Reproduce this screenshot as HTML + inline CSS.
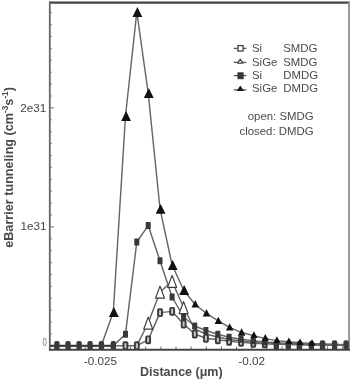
<!DOCTYPE html>
<html><head><meta charset="utf-8"><style>
html,body{margin:0;padding:0;background:#fff;}
body{width:350px;height:379px;overflow:hidden;position:relative;font-family:"Liberation Sans",sans-serif;}
svg{position:absolute;left:0;top:0;will-change:transform;}
</style></head><body>
<svg width="350" height="379" viewBox="0 0 350 379" font-family="Liberation Sans, sans-serif">
<defs><clipPath id="pc"><rect x="50.5" y="3" width="297" height="346"/></clipPath></defs>
<line x1="49" x2="350" y1="2.6" y2="2.6" stroke="#454545" stroke-width="2.1"/>
<line x1="49.8" x2="49.8" y1="1.6" y2="350.5" stroke="#666" stroke-width="1.8"/>
<line x1="349.1" x2="349.1" y1="1.6" y2="350.5" stroke="#959595" stroke-width="2"/>
<line x1="49" x2="350" y1="349.7" y2="349.7" stroke="#444" stroke-width="1.9"/>
<line x1="50.5" x2="53.8" y1="345.9" y2="345.9" stroke="#666" stroke-width="1"/>
<line x1="50.5" x2="51.8" y1="334.0" y2="334.0" stroke="#666" stroke-width="1"/>
<line x1="50.5" x2="51.8" y1="322.1" y2="322.1" stroke="#666" stroke-width="1"/>
<line x1="50.5" x2="51.8" y1="310.2" y2="310.2" stroke="#666" stroke-width="1"/>
<line x1="50.5" x2="51.8" y1="298.3" y2="298.3" stroke="#666" stroke-width="1"/>
<line x1="50.5" x2="51.8" y1="286.4" y2="286.4" stroke="#666" stroke-width="1"/>
<line x1="50.5" x2="51.8" y1="274.5" y2="274.5" stroke="#666" stroke-width="1"/>
<line x1="50.5" x2="51.8" y1="262.6" y2="262.6" stroke="#666" stroke-width="1"/>
<line x1="50.5" x2="51.8" y1="250.7" y2="250.7" stroke="#666" stroke-width="1"/>
<line x1="50.5" x2="51.8" y1="238.8" y2="238.8" stroke="#666" stroke-width="1"/>
<line x1="50.5" x2="53.8" y1="226.9" y2="226.9" stroke="#666" stroke-width="1"/>
<line x1="50.5" x2="51.8" y1="215.0" y2="215.0" stroke="#666" stroke-width="1"/>
<line x1="50.5" x2="51.8" y1="203.1" y2="203.1" stroke="#666" stroke-width="1"/>
<line x1="50.5" x2="51.8" y1="191.2" y2="191.2" stroke="#666" stroke-width="1"/>
<line x1="50.5" x2="51.8" y1="179.3" y2="179.3" stroke="#666" stroke-width="1"/>
<line x1="50.5" x2="51.8" y1="167.4" y2="167.4" stroke="#666" stroke-width="1"/>
<line x1="50.5" x2="51.8" y1="155.5" y2="155.5" stroke="#666" stroke-width="1"/>
<line x1="50.5" x2="51.8" y1="143.6" y2="143.6" stroke="#666" stroke-width="1"/>
<line x1="50.5" x2="51.8" y1="131.7" y2="131.7" stroke="#666" stroke-width="1"/>
<line x1="50.5" x2="51.8" y1="119.8" y2="119.8" stroke="#666" stroke-width="1"/>
<line x1="50.5" x2="53.8" y1="107.9" y2="107.9" stroke="#666" stroke-width="1"/>
<line x1="50.5" x2="51.8" y1="96.0" y2="96.0" stroke="#666" stroke-width="1"/>
<line x1="50.5" x2="51.8" y1="84.1" y2="84.1" stroke="#666" stroke-width="1"/>
<line x1="50.5" x2="51.8" y1="72.2" y2="72.2" stroke="#666" stroke-width="1"/>
<line x1="50.5" x2="51.8" y1="60.3" y2="60.3" stroke="#666" stroke-width="1"/>
<line x1="50.5" x2="51.8" y1="48.4" y2="48.4" stroke="#666" stroke-width="1"/>
<line x1="50.5" x2="51.8" y1="36.5" y2="36.5" stroke="#666" stroke-width="1"/>
<line x1="50.5" x2="51.8" y1="24.6" y2="24.6" stroke="#666" stroke-width="1"/>
<line x1="50.5" x2="51.8" y1="12.7" y2="12.7" stroke="#666" stroke-width="1"/>
<line y1="349" y2="346.5" x1="54.9" x2="54.9" stroke="#666" stroke-width="1"/>
<line y1="349" y2="346.5" x1="70.0" x2="70.0" stroke="#666" stroke-width="1"/>
<line y1="349" y2="346.5" x1="85.2" x2="85.2" stroke="#666" stroke-width="1"/>
<line y1="349" y2="345" x1="100.3" x2="100.3" stroke="#666" stroke-width="1"/>
<line y1="349" y2="346.5" x1="115.4" x2="115.4" stroke="#666" stroke-width="1"/>
<line y1="349" y2="346.5" x1="130.6" x2="130.6" stroke="#666" stroke-width="1"/>
<line y1="349" y2="346.5" x1="145.7" x2="145.7" stroke="#666" stroke-width="1"/>
<line y1="349" y2="346.5" x1="160.9" x2="160.9" stroke="#666" stroke-width="1"/>
<line y1="349" y2="346.5" x1="176.0" x2="176.0" stroke="#666" stroke-width="1"/>
<line y1="349" y2="346.5" x1="191.1" x2="191.1" stroke="#666" stroke-width="1"/>
<line y1="349" y2="346.5" x1="206.3" x2="206.3" stroke="#666" stroke-width="1"/>
<line y1="349" y2="346.5" x1="221.4" x2="221.4" stroke="#666" stroke-width="1"/>
<line y1="349" y2="346.5" x1="236.6" x2="236.6" stroke="#666" stroke-width="1"/>
<line y1="349" y2="345" x1="251.7" x2="251.7" stroke="#666" stroke-width="1"/>
<line y1="349" y2="346.5" x1="266.8" x2="266.8" stroke="#666" stroke-width="1"/>
<line y1="349" y2="346.5" x1="282.0" x2="282.0" stroke="#666" stroke-width="1"/>
<line y1="349" y2="346.5" x1="297.1" x2="297.1" stroke="#666" stroke-width="1"/>
<line y1="349" y2="346.5" x1="312.3" x2="312.3" stroke="#666" stroke-width="1"/>
<line y1="349" y2="346.5" x1="327.4" x2="327.4" stroke="#666" stroke-width="1"/>
<line y1="349" y2="346.5" x1="342.5" x2="342.5" stroke="#666" stroke-width="1"/>
<g clip-path="url(#pc)">
<polyline points="45.8,345.6 56.9,345.6 68.0,345.6 79.1,345.6 90.1,345.6 101.4,345.6 113.3,345.6 125.5,345.6 136.8,345.6 148.2,339.9 160.0,312.6 172.1,311.4 183.6,324.0 194.7,334.0 205.9,338.3 217.8,339.8 229.1,341.2 241.0,342.4 253.3,343.3 264.7,343.9 276.3,344.3 288.3,344.6 299.5,344.8 311.4,345.0 322.5,345.2 334.6,345.3 346.1,345.4 357.7,345.4" fill="none" stroke="#666" stroke-width="1.45" stroke-linejoin="round"/>
<polyline points="45.8,345.6 56.9,345.6 68.0,345.6 79.1,345.6 90.1,345.6 101.4,345.6 113.3,345.6 125.5,345.6 136.8,345.6 148.2,323.0 160.0,292.0 172.1,281.3 183.6,307.5 194.7,329.0 205.9,334.0 217.8,337.0 229.1,339.5 241.0,341.0 253.3,342.5 264.7,343.3 276.3,343.8 288.3,344.2 299.5,344.5 311.4,344.7 322.5,344.9 334.6,345.0 346.1,345.0 357.7,345.0" fill="none" stroke="#666" stroke-width="1.45" stroke-linejoin="round"/>
<polyline points="45.8,345.6 56.9,345.6 68.0,345.6 79.1,345.6 90.1,345.6 101.4,345.6 113.3,345.6 125.5,334.2 136.8,242.0 148.2,225.6 160.0,260.7 172.1,297.0 183.6,317.0 194.7,326.0 205.9,330.5 217.8,334.3 229.1,337.3 241.0,339.3 253.3,340.8 264.7,342.0 276.3,342.8 288.3,343.4 299.5,343.8 311.4,344.2 322.5,344.5 334.6,344.7 346.1,344.9 357.7,344.9" fill="none" stroke="#666" stroke-width="1.45" stroke-linejoin="round"/>
<polyline points="45.8,345.6 56.9,345.6 68.0,345.6 79.1,345.6 90.1,345.6 101.4,345.6 113.3,312.0 125.5,116.0 136.8,12.0 148.2,93.0 160.0,208.8 172.1,265.0 183.6,290.0 194.7,304.0 205.9,313.0 217.8,320.7 229.1,327.2 241.0,332.3 253.3,335.6 264.7,338.4 276.3,340.6 288.3,341.8 299.5,342.8 311.4,343.5 322.5,344.0 334.6,344.3 346.1,344.6 357.7,344.6" fill="none" stroke="#666" stroke-width="1.45" stroke-linejoin="round"/>
</g>
<line x1="50" x2="113.3" y1="345.8" y2="345.8" stroke="#3a3a3a" stroke-width="2"/>
<rect x="54.2" y="341" width="5.4" height="9.0" rx="2" fill="#3a3a3a"/>
<rect x="65.3" y="341" width="5.4" height="9.0" rx="2" fill="#3a3a3a"/>
<rect x="76.4" y="341" width="5.4" height="9.0" rx="2" fill="#3a3a3a"/>
<rect x="87.4" y="341" width="5.4" height="9.0" rx="2" fill="#3a3a3a"/>
<rect x="98.7" y="341" width="5.4" height="9.0" rx="2" fill="#3a3a3a"/>
<rect x="110.6" y="341" width="5.4" height="9.0" rx="2" fill="#3a3a3a"/>
<rect x="273.6" y="341" width="5.4" height="9.0" rx="2" fill="#3a3a3a"/>
<rect x="285.6" y="341" width="5.4" height="9.0" rx="2" fill="#3a3a3a"/>
<rect x="296.8" y="341" width="5.4" height="9.0" rx="2" fill="#3a3a3a"/>
<rect x="308.7" y="341" width="5.4" height="9.0" rx="2" fill="#3a3a3a"/>
<rect x="319.8" y="340.3" width="5.4" height="9.7" rx="2" fill="#3a3a3a"/>
<rect x="331.9" y="340.3" width="5.4" height="9.7" rx="2" fill="#3a3a3a"/>
<rect x="343.4" y="340.3" width="5.4" height="9.7" rx="2" fill="#3a3a3a"/>
<rect x="123.5" y="342.2" width="3.9" height="6.9" rx="0.8" fill="#c8c8c8" stroke="#3a3a3a" stroke-width="1.9"/>
<rect x="134.9" y="342.2" width="3.9" height="6.9" rx="0.8" fill="#c8c8c8" stroke="#3a3a3a" stroke-width="1.9"/>
<rect x="146.2" y="336.4" width="3.9" height="6.9" rx="0.8" fill="#c8c8c8" stroke="#3a3a3a" stroke-width="1.9"/>
<rect x="158.1" y="309.2" width="3.9" height="6.9" rx="0.8" fill="#c8c8c8" stroke="#3a3a3a" stroke-width="1.9"/>
<rect x="170.2" y="307.9" width="3.9" height="6.9" rx="0.8" fill="#c8c8c8" stroke="#3a3a3a" stroke-width="1.9"/>
<rect x="181.7" y="320.6" width="3.9" height="6.9" rx="0.8" fill="#c8c8c8" stroke="#3a3a3a" stroke-width="1.9"/>
<rect x="192.8" y="330.6" width="3.9" height="6.9" rx="0.8" fill="#c8c8c8" stroke="#3a3a3a" stroke-width="1.9"/>
<rect x="204.0" y="334.9" width="3.9" height="6.9" rx="0.8" fill="#c8c8c8" stroke="#3a3a3a" stroke-width="1.9"/>
<rect x="215.9" y="336.4" width="3.9" height="6.9" rx="0.8" fill="#c8c8c8" stroke="#3a3a3a" stroke-width="1.9"/>
<rect x="227.2" y="337.8" width="3.9" height="6.9" rx="0.8" fill="#c8c8c8" stroke="#3a3a3a" stroke-width="1.9"/>
<rect x="239.1" y="338.9" width="3.9" height="6.9" rx="0.8" fill="#c8c8c8" stroke="#3a3a3a" stroke-width="1.9"/>
<rect x="251.4" y="339.9" width="3.9" height="6.9" rx="0.8" fill="#c8c8c8" stroke="#3a3a3a" stroke-width="1.9"/>
<rect x="262.8" y="340.4" width="3.9" height="6.9" rx="0.8" fill="#c8c8c8" stroke="#3a3a3a" stroke-width="1.9"/>
<polygon points="148.2,317.1 143.7,329.1 152.7,329.1" fill="#fff" stroke="#3c3c3c" stroke-width="1.2" stroke-linejoin="round"/>
<polygon points="160.0,286.1 155.5,298.1 164.5,298.1" fill="#fff" stroke="#3c3c3c" stroke-width="1.2" stroke-linejoin="round"/>
<polygon points="172.1,275.4 167.6,287.4 176.6,287.4" fill="#fff" stroke="#3c3c3c" stroke-width="1.2" stroke-linejoin="round"/>
<polygon points="183.6,301.6 179.1,313.6 188.1,313.6" fill="#fff" stroke="#3c3c3c" stroke-width="1.2" stroke-linejoin="round"/>
<rect x="123.0" y="330.7" width="5" height="7" rx="0.6" fill="#383838"/>
<rect x="134.3" y="238.5" width="5" height="7" rx="0.6" fill="#383838"/>
<rect x="145.7" y="222.1" width="5" height="7" rx="0.6" fill="#383838"/>
<rect x="157.5" y="257.2" width="5" height="7" rx="0.6" fill="#383838"/>
<rect x="169.6" y="293.5" width="5" height="7" rx="0.6" fill="#383838"/>
<rect x="181.1" y="313.5" width="5" height="7" rx="0.6" fill="#383838"/>
<rect x="192.2" y="322.5" width="5" height="7" rx="0.6" fill="#383838"/>
<rect x="203.4" y="327.0" width="5" height="7" rx="0.6" fill="#383838"/>
<rect x="215.3" y="330.8" width="5" height="7" rx="0.6" fill="#383838"/>
<rect x="226.6" y="333.8" width="5" height="7" rx="0.6" fill="#383838"/>
<rect x="238.5" y="335.8" width="5" height="7" rx="0.6" fill="#383838"/>
<rect x="250.8" y="337.3" width="5" height="7" rx="0.6" fill="#383838"/>
<rect x="262.2" y="338.5" width="5" height="7" rx="0.6" fill="#383838"/>
<polygon points="113.9,307.1 108.9,316.9 118.8,316.9" fill="#111"/>
<polygon points="126.1,111.0 121.1,121.0 131.0,121.0" fill="#111"/>
<polygon points="137.4,7.0 132.5,16.9 142.3,16.9" fill="#111"/>
<polygon points="148.8,88.0 143.8,98.0 153.7,98.0" fill="#111"/>
<polygon points="160.6,203.9 155.7,213.8 165.5,213.8" fill="#111"/>
<polygon points="172.7,260.1 167.8,269.9 177.6,269.9" fill="#111"/>
<polygon points="184.2,285.1 179.2,294.9 189.1,294.9" fill="#111"/>
<polygon points="195.3,300.0 191.5,307.4 199.1,307.4" fill="#111"/>
<polygon points="206.5,309.0 202.7,316.4 210.3,316.4" fill="#111"/>
<polygon points="218.4,316.7 214.6,324.1 222.2,324.1" fill="#111"/>
<polygon points="229.7,323.2 225.9,330.6 233.5,330.6" fill="#111"/>
<polygon points="241.6,328.3 237.8,335.7 245.4,335.7" fill="#111"/>
<polygon points="253.9,331.3 250.3,337.9 257.5,337.9" fill="#111"/>
<polygon points="265.3,334.1 261.7,340.7 268.9,340.7" fill="#111"/>
<polygon points="276.9,336.3 273.3,342.9 280.5,342.9" fill="#111"/>
<polygon points="288.9,337.5 285.3,344.1 292.5,344.1" fill="#111"/>
<polygon points="300.1,338.5 296.5,345.1 303.7,345.1" fill="#111"/>
<polygon points="312.0,339.2 308.4,345.8 315.6,345.8" fill="#111"/>
<g fill="#444" font-size="11.7">
<text x="46.3" y="111.7" text-anchor="end">2e31</text>
<text x="46.5" y="230.2" text-anchor="end">1e31</text>
<text x="0" y="0" text-anchor="middle" font-size="11.2" transform="translate(44.7 345.9) scale(0.7 1.05)" fill="#707070">0</text>
<text x="100.4" y="364.8" text-anchor="middle">-0.025</text>
<text x="251.6" y="364.8" text-anchor="middle">-0.02</text>
</g>
<text x="181.3" y="376" text-anchor="middle" font-weight="bold" font-size="12.5" fill="#4a4a4a">Distance (μm)</text>
<text transform="translate(13.2 247.8) rotate(-90)" font-weight="bold" font-size="12.65" fill="#4a4a4a">eBarrier tunneling (cm<tspan font-size="8.2" dy="-5">-3</tspan><tspan dy="5">s</tspan><tspan font-size="8.2" dy="-5">-1</tspan><tspan dy="5">)</tspan></text>
<g font-size="11.4" fill="#4a4a4a">
<text x="252" y="52.1">Si</text><text x="283.2" y="52.1">SMDG</text>
<text x="252" y="65.6">SiGe</text><text x="283.2" y="65.6">SMDG</text>
<text x="252" y="78.6">Si</text><text x="283.2" y="78.6">DMDG</text>
<text x="252" y="91.8">SiGe</text><text x="283.2" y="91.8">DMDG</text>
<text x="313.6" y="120" text-anchor="end">open: SMDG</text>
<text x="313.6" y="135.2" text-anchor="end">closed: DMDG</text>
</g>
<g stroke="#555" stroke-width="1.3">
<line x1="233.8" x2="246.3" y1="48.4" y2="48.4"/>
<line x1="233.8" x2="246.3" y1="62.4" y2="62.4"/>
<line x1="233.8" x2="246.3" y1="75.6" y2="75.6"/>
<line x1="233.8" x2="246.3" y1="89.9" y2="89.9"/>
</g>
<rect x="237.9" y="45.6" width="5.2" height="5.4" fill="#fff" stroke="#444" stroke-width="1.3"/>
<polygon points="240.2,59.2 237.6,63.2 242.9,63.2" fill="#fff" stroke="#444" stroke-width="1.2" stroke-linejoin="round"/>
<rect x="237.4" y="72.3" width="6.3" height="6.9" fill="#383838"/>
<polygon points="240.3,85.6 236.6,91 244,91" fill="#1a1a1a"/>
</svg>
</body></html>
